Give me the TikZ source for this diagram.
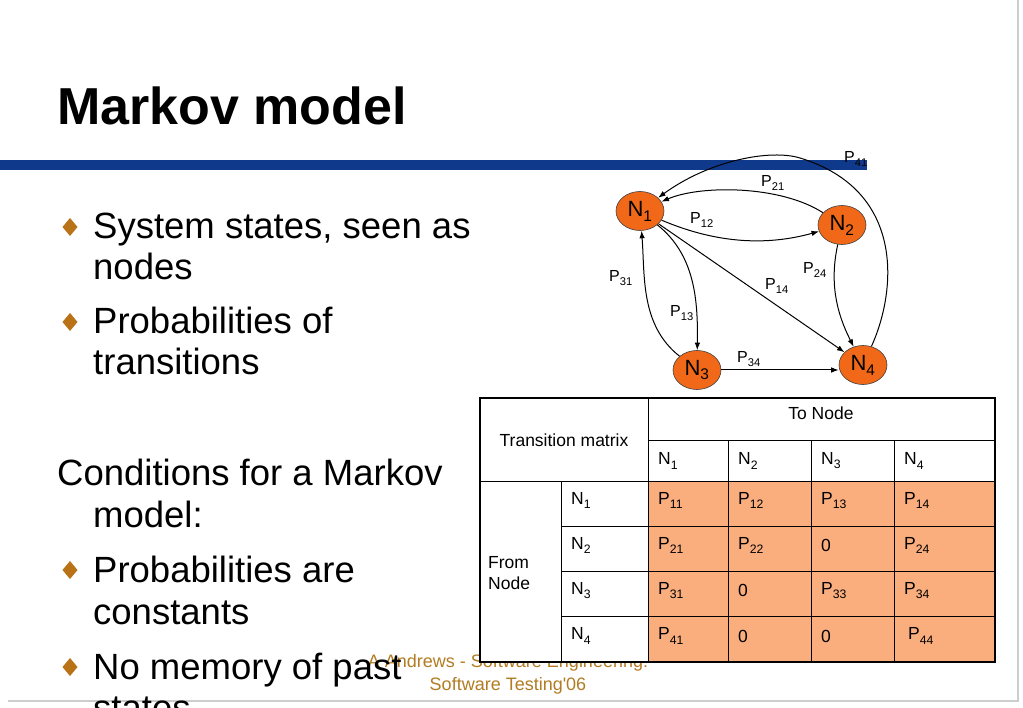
\documentclass[tikz,border=0pt]{standalone}
\usepackage{fontspec}
\setmainfont{Liberation Sans}
\usetikzlibrary{arrows.meta,shapes.geometric}
\definecolor{barblue}{RGB}{15,58,140}
\definecolor{bulletbrown}{RGB}{185,115,22}
\definecolor{footgold}{RGB}{178,124,34}
\definecolor{nodeorange}{RGB}{240,104,24}
\definecolor{cellfill}{RGB}{251,174,125}
\definecolor{framegray}{RGB}{205,205,205}
\newcommand{\sbs}[1]{\textsubscript{\raisebox{-0.12em}{#1}}}
\begin{document}
\begin{tikzpicture}[x=1pt,y=-1pt,
  body/.style={anchor=base west, inner sep=0pt, font=\fontsize{36.5}{42}\selectfont},
  titletext/.style={anchor=base west, inner sep=0pt, font=\fontsize{52}{60}\selectfont\bfseries},
  footer/.style={anchor=base, inner sep=0pt, text=footgold, font=\fontsize{18}{21}\selectfont},
  state/.style={ellipse, fill=nodeorange, draw=black!75, line width=0.6pt, minimum width=48pt, minimum height=39pt, inner sep=0pt, font=\fontsize{22}{24}\selectfont},
  plabel/.style={inner sep=0pt, font=\fontsize{16}{18}\selectfont},
  arr/.style={-{Latex[length=7.5pt,width=5.5pt]}, line width=1pt},
  tline/.style={line width=0.8pt},
  tcell/.style={inner sep=0pt, font=\fontsize{17.5}{21}\selectfont},
  bulletmark/.style={fill=bulletbrown}]
\useasboundingbox (0,0) rectangle (1023,708);
\clip (0,0) rectangle (1023,708);
\fill[white] (0,0) rectangle (1023,708);
% frame
\draw[framegray, line width=1.2pt] (8,701) -- (1018,701) -- (1018,0);
% title
\node[titletext] (title) at (57,125) {Markov model};
\fill[barblue] (0,160) rectangle (867,170);
% body text
\foreach \cy in {227,322,570,667}
  \fill[bulletmark] (70,\cy-9) -- (77.5,\cy) -- (70,\cy+9) -- (62.5,\cy) -- cycle;
\node[body] (t1) at (93,239) {System states, seen as};
\node[body] (t2) at (93,280) {nodes};
\node[body] (t3) at (93,334) {Probabilities of};
\node[body] (t4) at (93,375) {transitions};
\node[body] (t5) at (57,485) {Conditions for a Markov};
\node[body] (t6) at (93,527) {model:};
\node[body] (t7) at (93,582) {Probabilities are};
\node[body] (t8) at (93,624) {constants};
\node[footer] (f1) at (508,667) {A Andrews - Software Engineering:};
\node[footer] (f2) at (508,690) {Software Testing\textquotesingle 06};
\node[body] (t9) at (93,679) {No memory of past};
\node[body] (t10) at (93,720) {states};
% graph
\node[state] (N1) at (640,211) {N\sbs{1}};
\node[state] (N2) at (842,225) {N\sbs{2}};
\node[state] (N3) at (697,370) {N\sbs{3}};
\node[state] (N4) at (863,365) {N\sbs{4}};
\draw[arr] (N4) .. controls (897,290) and (905,190) .. (800,158)
   .. controls (771,149) and (710,160) .. (N1);
\draw[arr] (N2) .. controls (780,185) and (700,185) .. (N1);
\draw[arr] (N1) .. controls (720,245) and (770,245) .. (N2);
\draw[arr] (N1) -- (N4);
\draw[arr] (N1) .. controls (695,255) and (698,300) .. (N3);
\draw[arr] (N3) .. controls (640,325) and (645,275) .. (N1);
\draw[arr] (N2) .. controls (830,280) and (835,310) .. (N4);
\draw[arr] (N3.east) -- (N3.east -| N4.west);
\node[plabel] (l41) at (856,159) {P\sbs{41}};
\node[plabel] (l21) at (773,183) {P\sbs{21}};
\node[plabel] (l12) at (702,220) {P\sbs{12}};
\node[plabel] (l14) at (777,286) {P\sbs{14}};
\node[plabel] (l13) at (682,313) {P\sbs{13}};
\node[plabel] (l31) at (621,278) {P\sbs{31}};
\node[plabel] (l24) at (815,270) {P\sbs{24}};
\node[plabel] (l34) at (749,359) {P\sbs{34}};
% table
\fill[white] (480,398) rectangle (995,662);
\fill[cellfill] (648,481) rectangle (995,662);
\draw[tline] (648,440) -- (995,440);
\draw[tline] (480,481) -- (995,481);
\foreach \y in {526,571,616} \draw[tline] (561,\y) -- (995,\y);
\draw[tline] (561,481) -- (561,662);
\draw[tline] (648,398) -- (648,662);
\foreach \x in {728,811,894} \draw[tline] (\x,440) -- (\x,662);
\draw[line width=2.5pt] (480,398) rectangle (995,662);
\node[tcell] (tm) at (564,440) {Transition matrix};
\node[tcell] (tn) at (821,413) {To Node};
\node[tcell, anchor=west, align=left] (fromnode) at (488,573) {From\\Node};
\node[tcell, anchor=west] (h1) at (658,461) {N\sbs{1}};
\node[tcell, anchor=west] (h2) at (738,461) {N\sbs{2}};
\node[tcell, anchor=west] (h3) at (821,461) {N\sbs{3}};
\node[tcell, anchor=west] (h4) at (904,461) {N\sbs{4}};
\node[tcell, anchor=west] (r1) at (571,500.5) {N\sbs{1}};
\node[tcell, anchor=west] (r2) at (571,545.5) {N\sbs{2}};
\node[tcell, anchor=west] (r3) at (571,590.5) {N\sbs{3}};
\node[tcell, anchor=west] (r4) at (571,636) {N\sbs{4}};
\node[tcell, anchor=west] (p11) at (658,500.5) {P\sbs{11}};
\node[tcell, anchor=west] (p12) at (738,500.5) {P\sbs{12}};
\node[tcell, anchor=west] (p13) at (821,500.5) {P\sbs{13}};
\node[tcell, anchor=west] (p14) at (904,500.5) {P\sbs{14}};
\node[tcell, anchor=west] (p21) at (658,545.5) {P\sbs{21}};
\node[tcell, anchor=west] (p22) at (738,545.5) {P\sbs{22}};
\node[tcell, anchor=west] (p23) at (821,545.5) {0};
\node[tcell, anchor=west] (p24) at (904,545.5) {P\sbs{24}};
\node[tcell, anchor=west] (p31) at (658,590.5) {P\sbs{31}};
\node[tcell, anchor=west] (p32) at (738,590.5) {0};
\node[tcell, anchor=west] (p33) at (821,590.5) {P\sbs{33}};
\node[tcell, anchor=west] (p34) at (904,590.5) {P\sbs{34}};
\node[tcell, anchor=west] (p41) at (658,636) {P\sbs{41}};
\node[tcell, anchor=west] (p42) at (738,636) {0};
\node[tcell, anchor=west] (p43) at (821,636) {0};
\node[tcell, anchor=west] (p44) at (908,636) {P\sbs{44}};
\end{tikzpicture}
\end{document}
